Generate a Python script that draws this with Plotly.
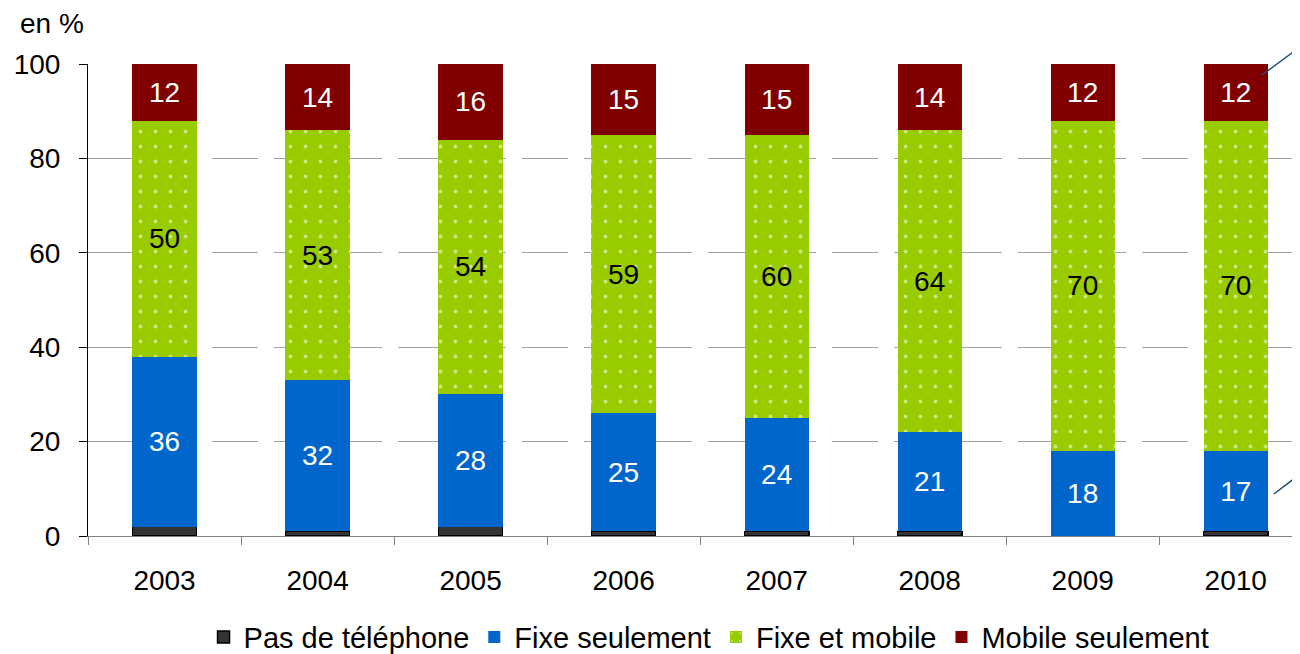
import plotly.graph_objects as go

# donnees (en %)
annees = ['2003', '2004', '2005', '2006', '2007', '2008', '2009', '2010']
pas_de_tel = [2, 1, 2, 1, 1, 1, 0, 1]
fixe_seul = [36, 32, 28, 25, 24, 21, 18, 17]
fixe_mobile = [50, 53, 54, 59, 60, 64, 70, 70]
mobile_seul = [12, 14, 16, 15, 15, 14, 12, 12]

FONT = 'Liberation Sans, Arial, sans-serif'
TXT = 28

fig = go.Figure()

fig.add_trace(go.Bar(x=annees, y=pas_de_tel, name='Pas de téléphone',
                     marker=dict(color='#333333', line=dict(color='black', width=1.5))))
fig.add_trace(go.Bar(x=annees, y=fixe_seul, name='Fixe seulement',
                     text=fixe_seul, textfont=dict(color='white', size=TXT),
                     marker=dict(color='#0066cc', line=dict(width=0))))
fig.add_trace(go.Bar(x=annees, y=fixe_mobile, name='Fixe et mobile',
                     text=fixe_mobile, textfont=dict(color='black', size=TXT),
                     marker=dict(color='#99cc00', line=dict(width=0),
                                 pattern=dict(shape='.', fgcolor='white', bgcolor='#99cc00',
                                              size=15, solidity=0.05))))
fig.add_trace(go.Bar(x=annees, y=mobile_seul, name='Mobile seulement',
                     text=mobile_seul, textfont=dict(color='white', size=TXT),
                     marker=dict(color='#800000', line=dict(width=0))))

fig.update_traces(textposition='inside', insidetextanchor='middle', textangle=0,
                  constraintext='none', hoverinfo='skip')

# traits de renvoi a droite
for x0, y0, x1, y1 in [(0.9686, 0.9767, 1.0, 1.036), (0.9785, 0.089, 1.0, 0.131)]:
    fig.add_shape(type='line', xref='paper', yref='paper', x0=x0, y0=y0, x1=x1, y1=y1,
                  line=dict(color='#1f4e79', width=1.5))

fig.add_annotation(text='en %', xref='paper', yref='paper', x=-0.058, y=1.085,
                   xanchor='left', yanchor='middle', showarrow=False,
                   font=dict(size=TXT, color='black', family=FONT))

# la page a une marge de 8px : figure un peu plus petite que la fenetre
fig.update_layout(
    width=1292, height=646,
    margin=dict(l=80, r=0, t=56, b=118),
    barmode='stack', bargap=0.58,
    plot_bgcolor='white', paper_bgcolor='white',
    font=dict(family=FONT, size=TXT, color='black'),
    showlegend=True,
    legend=dict(orientation='h', xref='container', x=0.5426, xanchor='center',
                yref='container', y=0.026, yanchor='middle',
                font=dict(size=29), traceorder='normal', itemwidth=30),
    xaxis=dict(range=[-0.5, 7.42], showline=True, linecolor='#808080', linewidth=1,
               ticks='outside', tickson='boundaries', ticklen=8, tickcolor='#808080',
               tickfont=dict(size=TXT), ticklabelstandoff=19, showgrid=False, zeroline=False),
    yaxis=dict(range=[0, 100], tickvals=[0, 20, 40, 60, 80, 100],
               showline=True, linecolor='black', linewidth=1,
               ticks='outside', ticklen=8, tickcolor='black', tickfont=dict(size=TXT),
               ticklabelstandoff=13,
               showgrid=True, gridcolor='#a0a0a0', gridwidth=1, griddash='46px,16px',
               zeroline=False),
)

fig.write_html('out.html')
